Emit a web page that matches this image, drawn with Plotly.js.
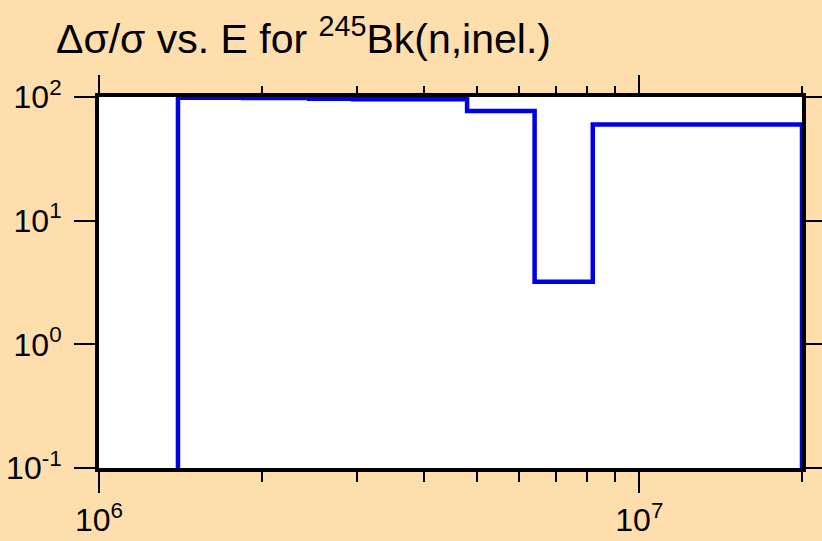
<!DOCTYPE html>
<html>
<head>
<meta charset="utf-8">
<script src="https://cdn.plot.ly/plotly-3.0.1.min.js"></script>
<style>html,body{margin:0;padding:0;background:#FFDEAD;}</style>
</head>
<body>
<div id="chart" style="width:822px;height:541px;"></div>
<script>
// Step edges (eV) and relative uncertainty (%)
const energies = [1.4e6, 1.4e6, 1.85e6, 2.45e6, 2.95e6, 4.8e6, 6.4e6, 8.2e6, 2e7, 2e7];
const relUnc   = [0.01, 98.5, 98, 97, 96, 77, 3.2, 60, 60, 0.01];
const titleText = 'Δσ/σ vs. E for <sup>245</sup>Bk(n,inel.)';
const xMajorVals = [1e6, 1e7];
const xMajorText = ['10<sup>6</sup>', '10<sup>7</sup>'];
const xMinorVals = [2e6, 3e6, 4e6, 5e6, 6e6, 7e6, 8e6, 9e6, 2e7];
const yMajorVals = [0.1, 1, 10, 100];
const yMajorText = ['10<sup>-1</sup>', '10<sup>0</sup>', '10<sup>1</sup>', '10<sup>2</sup>'];

const FONT = 'Liberation Sans, Arial, sans-serif';
const xr = [6, Math.log10(2e7)];

const trace = {
  x: energies, y: relUnc, type: 'scatter', mode: 'lines',
  line: {shape: 'hv', color: '#0000e6', width: 4.5},
  hoverinfo: 'skip'
};
const dummyTop = {x: [2e6], y: [1], xaxis: 'x2', yaxis: 'y', type: 'scatter', mode: 'markers',
  marker: {opacity: 0}, hoverinfo: 'skip'};

const tickCommon = {ticks: 'outside', ticklen: 21, tickwidth: 2, tickcolor: '#000'};
const minorCommon = {ticks: 'outside', ticklen: 10, tickwidth: 2, tickcolor: '#000', tickvals: xMinorVals, showgrid: false};

const layout = {
  width: 822, height: 541,
  paper_bgcolor: '#FFDEAD', plot_bgcolor: '#FFFFFF',
  margin: {l: 99, r: 20, t: 97, b: 73},
  showlegend: false,
  annotations: [{
    text: titleText, xref: 'paper', yref: 'paper', x: -0.064, y: 1.09,
    xanchor: 'left', yanchor: 'bottom', showarrow: false,
    font: {family: FONT, size: 41, color: '#000'}
  }],
  xaxis: Object.assign({
    type: 'log', range: xr,
    showgrid: false, zeroline: false,
    showline: true, linecolor: '#000', linewidth: 4, mirror: true,
    tickmode: 'array', tickvals: xMajorVals, ticktext: xMajorText,
    tickfont: {family: FONT, size: 32, color: '#000'},
    minor: minorCommon
  }, tickCommon),
  xaxis2: Object.assign({
    type: 'log', range: xr, overlaying: 'x', side: 'top',
    showgrid: false, zeroline: false, showline: false,
    tickmode: 'array', tickvals: xMajorVals, showticklabels: false,
    minor: minorCommon
  }, tickCommon),
  yaxis: Object.assign({
    type: 'log', range: [-1, 2],
    showgrid: false, zeroline: false,
    showline: true, linecolor: '#000', linewidth: 4, mirror: 'ticks',
    tickmode: 'array', tickvals: yMajorVals, ticktext: yMajorText,
    ticklabelstandoff: 6,
    tickfont: {family: FONT, size: 32, color: '#000'}
  }, tickCommon)
};
Plotly.newPlot('chart', [trace, dummyTop], layout, {staticPlot: true, displayModeBar: false});
</script>
</body>
</html>
